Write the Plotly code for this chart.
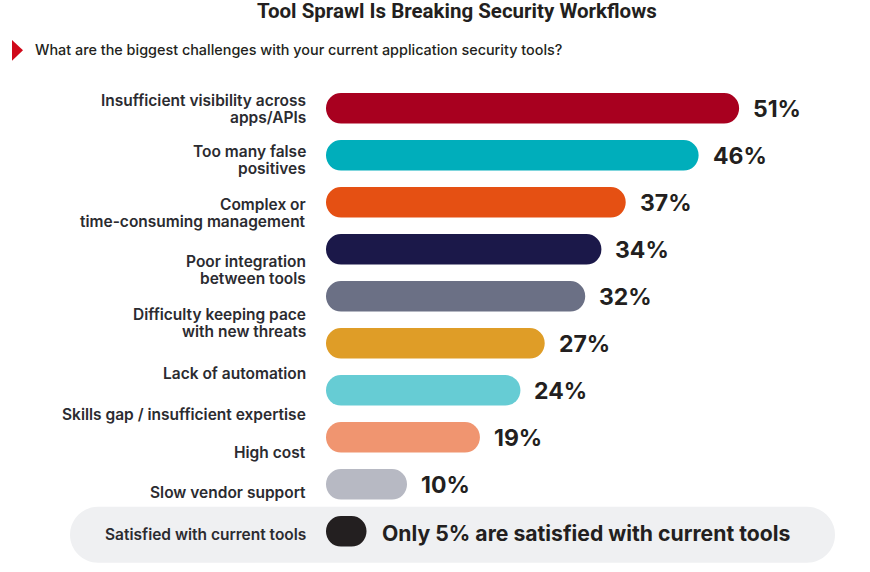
import plotly.graph_objects as go

categories = [
    "Insufficient visibility across<br>apps/APIs",
    "Too many false<br>positives",
    "Complex or<br>time-consuming management",
    "Poor integration<br>between tools",
    "Difficulty keeping pace<br>with new threats",
    "Lack of automation",
    "Skills gap / insufficient expertise",
    "High cost",
    "Slow vendor support",
    "Satisfied with current tools",
]
values = [51, 46, 37, 34, 32, 27, 24, 19, 10, 5]
value_labels = ["51%", "46%", "37%", "34%", "32%", "27%", "24%", "19%", "10%",
                "Only 5% are satisfied with current tools"]
colors = ["#a8001f", "#00aebb", "#e55013", "#1b1849", "#6b7085",
          "#df9d27", "#66ccd4", "#f09570", "#b7b9c3", "#231f20"]
# vertical pixel offsets of the left-hand labels relative to their bars
label_offsets = [0.4, 4.8, 10.8, 20.6, 27, 30, 24, 14.7, 7.7, 2.7]

TITLE = "Tool Sprawl Is Breaking Security Workflows"
SUBTITLE = "What are the biggest challenges with your current application security tools?"

W, H = 870, 572

PX_PER_UNIT = 8.1
X0_PX = 326
ROW0_PX = 108.3
ROW_PX = 47.0
BAR_PX = 30.5
BAR_W = BAR_PX / ROW_PX

fig = go.Figure()

# pill-shaped bars (explicit base -> both ends rounded)
for i, (v, c) in enumerate(zip(values, colors)):
    fig.add_trace(go.Bar(
        y=[i], x=[v], base=[0], orientation="h",
        width=BAR_W, opacity=1,
        marker=dict(color=c, cornerradius="50%", line=dict(width=0)),
        hoverinfo="skip", showlegend=False))

LABEL_FONT = dict(family="Inter", size=15.5, color="#2b2b30", weight=600)
LINE_PX = 17

annotations = []
for i, (cat, v, lab, off) in enumerate(zip(categories, values, value_labels, label_offsets)):
    lines = cat.split("<br>")
    n = len(lines)
    for j, line in enumerate(lines):
        dy = off + (j - (n - 1) / 2) * LINE_PX
        annotations.append(dict(
            x=0, y=i, xref="x", yref="y", text=line, showarrow=False,
            xanchor="right", yanchor="middle", align="right", xshift=-18, yshift=-dy,
            font=LABEL_FONT))
    is_note = i == len(values) - 1
    annotations.append(dict(
        x=v, y=i, xref="x", yref="y", text=lab, showarrow=False,
        xanchor="left", yanchor="middle", xshift=13 if is_note else 12,
        yshift=-2 if is_note else -1,
        font=dict(family="Inter", size=21.2 if is_note else 23,
                  color="#231f20", weight=700)))

annotations.append(dict(
    x=457 / W, y=1 - 11 / H, xref="paper", yref="paper", text=TITLE,
    showarrow=False, xanchor="center", yanchor="middle",
    font=dict(family="Roboto", size=20.5, color="#231f20", weight=700)))
annotations.append(dict(
    x=33 / W, y=1 - 50 / H, xref="paper", yref="paper", text=SUBTITLE,
    showarrow=False, xanchor="left", yanchor="middle",
    font=dict(family="Inter", size=14.4, color="#231f20", weight=500)))


def pill_path(x0, x1, y0, y1):
    r = (y1 - y0) / 2
    k = 0.5523 * r
    cy = (y0 + y1) / 2
    a, b = x0 + r, x1 - r
    return (f"M {a},{y0} L {b},{y0} "
            f"C {b + k},{y0} {x1},{cy - k} {x1},{cy} "
            f"C {x1},{cy + k} {b + k},{y1} {b},{y1} "
            f"L {a},{y1} "
            f"C {a - k},{y1} {x0},{cy + k} {x0},{cy} "
            f"C {x0},{cy - k} {a - k},{y0} {a},{y0} Z")


shapes = [
    dict(type="path", xref="paper", yref="paper", xsizemode="pixel", ysizemode="pixel",
         xanchor=0, yanchor=0,
         path=pill_path(70, 835, H - 562.7, H - 506.7),
         fillcolor="#eff0f2", line=dict(width=0), layer="below"),
    dict(type="path", xref="paper", yref="paper", xsizemode="pixel", ysizemode="pixel",
         xanchor=0, yanchor=0,
         path=f"M 12,{H - 40} L 23,{H - 50.3} L 12,{H - 60.7} Z",
         fillcolor="#d0091a", line=dict(width=0)),
]

fig.update_layout(
    width=W, height=H,
    margin=dict(l=0, r=0, t=0, b=0),
    paper_bgcolor="white", plot_bgcolor="rgba(0,0,0,0)",
    barmode="overlay",
    xaxis=dict(range=[-X0_PX / PX_PER_UNIT, (W - X0_PX) / PX_PER_UNIT],
               visible=False, fixedrange=True),
    yaxis=dict(range=[(H - ROW0_PX) / ROW_PX, -ROW0_PX / ROW_PX],
               visible=False, fixedrange=True),
    annotations=annotations,
    shapes=shapes,
    showlegend=False,
)

fig.write_html(
    "out.html",
    config={"displayModeBar": False},
    post_script="document.body.style.margin='0';document.body.style.overflow='hidden';",
)
